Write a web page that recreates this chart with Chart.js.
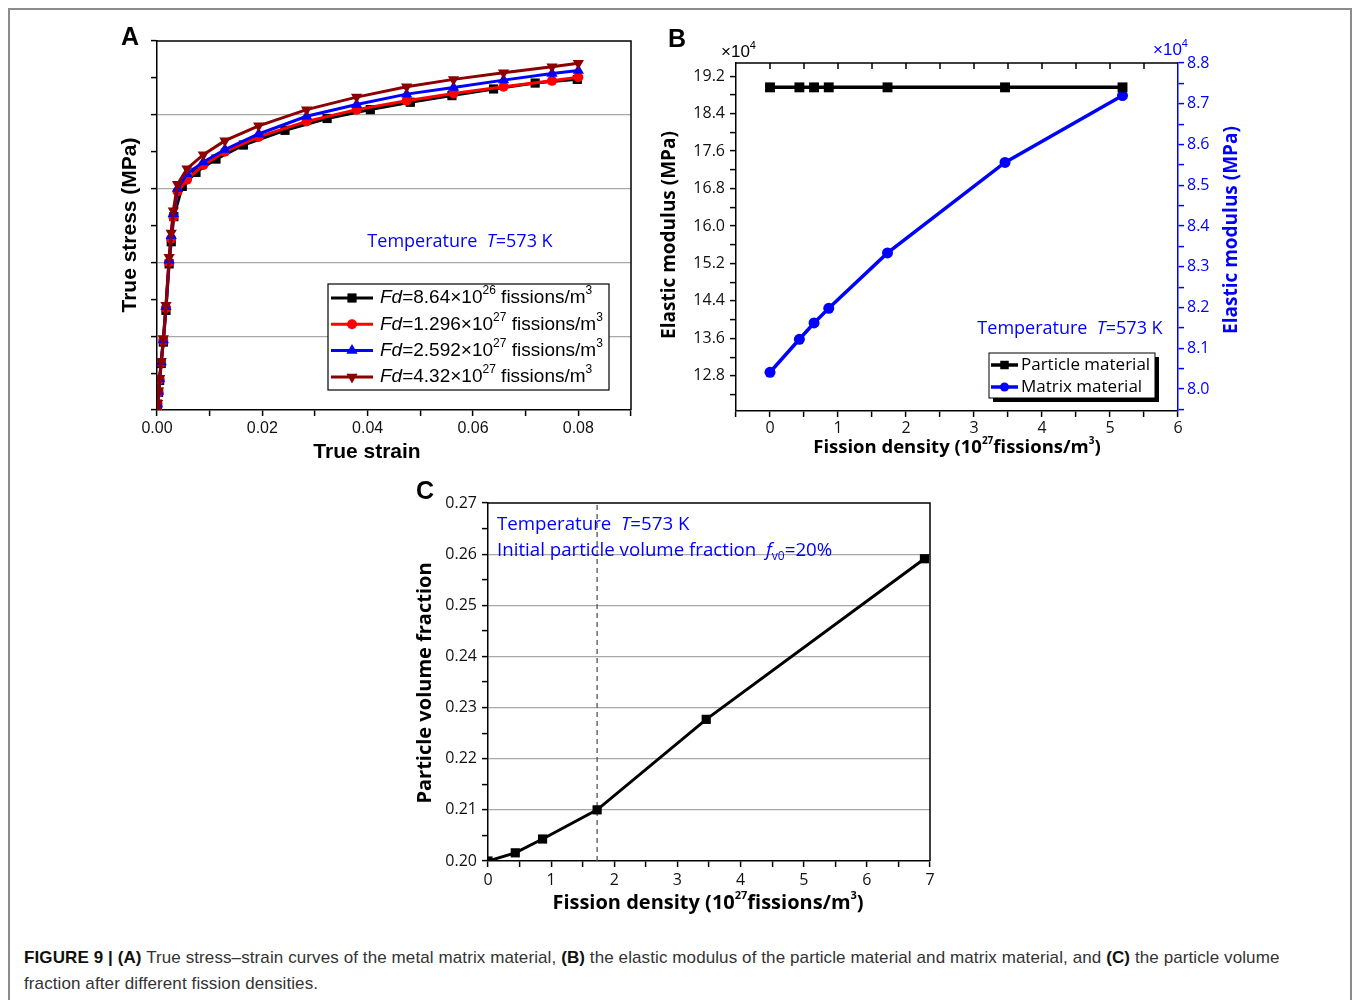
<!DOCTYPE html>
<html>
<head>
<meta charset="utf-8">
<title>Figure 9</title>
<script src="https://cdn.jsdelivr.net/npm/chart.js@4.4.1/dist/chart.umd.min.js"></script>
<style>
  body { margin: 0; background: #fff; width: 1356px; height: 1000px; position: relative; overflow: hidden; }
  .frame { position: absolute; left: 8px; top: 8px; width: 1340px; height: 1000px; border: 2px solid #8c8c8c; border-bottom: none; }
  canvas { position: absolute; }
  #chartA { left: 100px; top: 20px; }
  #chartB { left: 640px; top: 20px; }
  #chartC { left: 380px; top: 480px; }
  .caption { position: absolute; left: 24px; top: 945px; font-family: 'Liberation Sans Narrow', 'Liberation Sans', Arial, sans-serif; font-size: 17px; letter-spacing: 0.1px; line-height: 26px; color: #333; white-space: nowrap; }
  .caption b { color: #111; }
</style>
</head>
<body>
<div class="frame"></div>
<canvas id="chartA" width="560" height="460"></canvas>
<canvas id="chartB" width="660" height="460"></canvas>
<canvas id="chartC" width="600" height="440"></canvas>
<div class="caption"><b>FIGURE 9 | (A)</b> True stress–strain curves of the metal matrix material, <b>(B)</b> the elastic modulus of the particle material and matrix material, and <b>(C)</b> the particle volume<br>fraction after different fission densities.</div>

<script>
// ---- (A) true stress-strain curves, one per fission density ----
const strainFd1 = [0, 0.0001, 0.0003, 0.0005, 0.0008, 0.0012, 0.0017, 0.0023, 0.0027, 0.0032, 0.0048, 0.0074, 0.0112, 0.0164, 0.0243, 0.0323, 0.0405, 0.0481, 0.0560, 0.0639, 0.0718, 0.0798];
const stressFd1 = [0, 8, 24, 40, 63, 92, 135, 198, 228, 262, 303, 322, 340, 359, 379, 395, 407, 417, 426, 435, 443, 448];
const strainFd2 = [0, 0.0001, 0.0003, 0.0005, 0.0008, 0.0012, 0.0017, 0.0023, 0.0027, 0.0031, 0.0039, 0.0057, 0.0088, 0.0129, 0.0193, 0.0284, 0.0379, 0.0474, 0.0563, 0.0658, 0.0750, 0.0800];
const stressFd2 = [0, 8, 24, 41, 64, 94, 138, 200, 232, 262, 296, 312, 332, 350, 370, 391, 407, 419, 429, 438, 446, 451];
const stressFd3 = [0, 8, 25, 42, 65, 95, 140, 203, 236, 266, 300, 320, 336, 353, 374, 398, 414, 428, 437, 447, 456, 460];
const stressFd4 = [0, 9, 26, 43, 66, 97, 142, 207, 240, 270, 306, 327, 346, 365, 385, 407, 424, 438, 448, 457, 465, 470];
const fdMantissa = ['8.64', '1.296', '2.592', '4.32'];
const fdExponent = ['26', '27', '27', '27'];

const strainTicksA = [0, 0.01, 0.02, 0.03, 0.04, 0.05, 0.06, 0.07, 0.08, 0.09];
const strainLabelsA = ['0.00', '', '0.02', '', '0.04', '', '0.06', '', '0.08', ''];
const stressTicksA = [0, 50, 100, 150, 200, 250, 300, 350, 400, 450, 500];
const stressGridA = [100, 200, 300, 400];

// ---- (B) elastic modulus (x10^4 MPa) vs fission density ----
const fissionB = [0, 0.432, 0.648, 0.864, 1.728, 3.456, 5.184];
const particleModulus = [18.96, 18.96, 18.96, 18.96, 18.96, 18.96, 18.96];
const matrixModulus = [8.041, 8.122, 8.162, 8.198, 8.334, 8.556, 8.720];

const fissionTicksB = [-0.5, 0, 0.5, 1, 1.5, 2, 2.5, 3, 3.5, 4, 4.5, 5, 5.5, 6];
const fissionLabelsB = ['', '0', '', '1', '', '2', '', '3', '', '4', '', '5', '', '6'];
const leftTicksB = [12.4, 12.8, 13.2, 13.6, 14.0, 14.4, 14.8, 15.2, 15.6, 16.0, 16.4, 16.8, 17.2, 17.6, 18.0, 18.4, 18.8, 19.2];
const leftLabelsB = ['', '12.8', '', '13.6', '', '14.4', '', '15.2', '', '16.0', '', '16.8', '', '17.6', '', '18.4', '', '19.2'];
const rightTicksB = [7.95, 8.0, 8.05, 8.1, 8.15, 8.2, 8.25, 8.3, 8.35, 8.4, 8.45, 8.5, 8.55, 8.6, 8.65, 8.7, 8.75, 8.8];
const rightLabelsB = ['', '8.0', '', '8.1', '', '8.2', '', '8.3', '', '8.4', '', '8.5', '', '8.6', '', '8.7', '', '8.8'];

// ---- (C) particle volume fraction vs fission density ----
const fissionC = [0, 0.432, 0.864, 1.728, 3.456, 6.912];
const volumeFraction = [0.2000, 0.2016, 0.2043, 0.2100, 0.2277, 0.2591];
const markerLineC = 1.728;

const fissionTicksC = [0, 0.5, 1, 1.5, 2, 2.5, 3, 3.5, 4, 4.5, 5, 5.5, 6, 6.5, 7];
const fissionLabelsC = ['0', '', '1', '', '2', '', '3', '', '4', '', '5', '', '6', '', '7'];
const fractionTicksC = [0.200, 0.205, 0.21, 0.215, 0.22, 0.225, 0.23, 0.235, 0.24, 0.245, 0.25, 0.255, 0.26, 0.265, 0.27];
const fractionLabelsC = ['0.20', '', '0.21', '', '0.22', '', '0.23', '', '0.24', '', '0.25', '', '0.26', '', '0.27'];
const fractionGridC = [0.21, 0.22, 0.23, 0.24, 0.25, 0.26];

const ARIAL = "'Liberation Sans', Arial, sans-serif";
const SANS = "'Open Sans', 'Noto Sans', sans-serif";
const BLUE = '#0000ff';

function points(xs, ys) {
    return xs.map((x, i) => ({ x: x, y: ys[i] }));
}

// linear axis with explicit tick list (minor ticks get empty labels)
function axis(o) {
    const color = o.color || '#000';
    return {
        type: 'linear',
        position: o.position,
        min: o.min,
        max: o.max,
        afterBuildTicks: s => { s.ticks = o.ticks.map(v => ({ value: v })); },
        afterFit: s => {
            if (o.position === 'bottom') s.height = o.size;
            else s.width = o.size;
        },
        ticks: {
            autoSkip: false,
            maxRotation: 0,
            padding: o.pad,
            color: o.color || '#111',
            font: o.font,
            callback: (v, i) => (o.labels ? o.labels[i] : '')
        },
        grid: {
            drawOnChartArea: !!o.grid,
            color: c => (o.grid && c.tick && o.grid.includes(c.tick.value) ? '#a8a8a8' : 'rgba(0,0,0,0)'),
            lineWidth: 1.2,
            tickColor: color,
            tickLength: 6,
            tickWidth: 1.5
        },
        border: { display: true, color: color, width: 1.5 }
    };
}

// draw text made of plain / italic / superscript / subscript runs
function drawRich(ctx, parts, x, y, o) {
    const fontOf = p => {
        const f = p[1] || '';
        const small = f.includes('^') || f.includes('_');
        const size = small ? (o.small || Math.round(o.size * 0.62)) : o.size;
        return (f.includes('i') ? 'italic ' : '') + (o.weight || 'normal') + ' ' + size + 'px ' + o.family;
    };
    let total = 0;
    parts.forEach(p => { ctx.font = fontOf(p); total += ctx.measureText(p[0]).width; });
    let cx = o.align === 'center' ? x - total / 2 : x;
    ctx.fillStyle = o.color || '#000';
    ctx.textAlign = 'left';
    ctx.textBaseline = 'middle';
    parts.forEach(p => {
        const f = p[1] || '';
        ctx.font = fontOf(p);
        const dy = f.includes('^') ? -o.size * 0.36 : (f.includes('_') ? o.size * 0.32 : 0);
        ctx.fillText(p[0], cx, y + dy);
        cx += ctx.measureText(p[0]).width;
    });
}

function rotated(ctx, x, y, fn) {
    ctx.save();
    ctx.translate(x, y);
    ctx.rotate(-Math.PI / 2);
    fn();
    ctx.restore();
}

function frameTopRight(ctx, area) {
    ctx.save();
    ctx.strokeStyle = '#000';
    ctx.lineWidth = 1.5;
    ctx.beginPath();
    ctx.moveTo(area.left, area.top);
    ctx.lineTo(area.right, area.top);
    ctx.lineTo(area.right, area.bottom);
    ctx.stroke();
    ctx.restore();
}

const baseOptions = {
    responsive: false,
    animation: false,
    devicePixelRatio: 1,
    plugins: { legend: { display: false }, tooltip: { enabled: false } }
};

// ---------------- panel A ----------------
const seriesA = [
    { xs: strainFd1, ys: stressFd1, color: '#000000', style: 'rect', radius: 6.5, rotation: 0 },
    { xs: strainFd2, ys: stressFd2, color: '#ff0000', style: 'circle', radius: 5, rotation: 0 },
    { xs: strainFd2, ys: stressFd3, color: '#0000ff', style: 'triangle', radius: 6.5, rotation: 0 },
    { xs: strainFd2, ys: stressFd4, color: '#8b0000', style: 'triangle', radius: 6.5, rotation: 180 }
];

const decorA = {
    id: 'decorA',
    afterDraw(chart) {
        const ctx = chart.ctx;
        frameTopRight(ctx, chart.chartArea);
        ctx.save();
        drawRich(ctx, [['A']], 30, 18, { size: 25, family: ARIAL, weight: 'bold', align: 'center' });
        rotated(ctx, 30, 205, () => drawRich(ctx, [['True stress (MPa)']], 0, 0, { size: 21, family: ARIAL, weight: 'bold', align: 'center' }));
        drawRich(ctx, [['True strain']], 267, 432, { size: 21, family: ARIAL, weight: 'bold', align: 'center' });
        drawRich(ctx, [['Temperature  '], ['T', 'i'], ['=573 K']], 360, 222, { size: 18, family: SANS, color: BLUE, align: 'center' });

        // legend
        ctx.fillStyle = '#fff';
        ctx.fillRect(228, 264, 281, 106);
        ctx.strokeStyle = '#000';
        ctx.lineWidth = 1.2;
        ctx.strokeRect(228, 264, 281, 106);
        seriesA.forEach((s, i) => {
            const y = 278 + i * 26.3;
            ctx.strokeStyle = s.color;
            ctx.lineWidth = 3;
            ctx.beginPath();
            ctx.moveTo(231, y);
            ctx.lineTo(273, y);
            ctx.stroke();
            ctx.fillStyle = s.color;
            Chart.helpers.drawPoint(ctx, { pointStyle: s.style, rotation: s.rotation, radius: s.radius, borderWidth: 0 }, 252, y);
            drawRich(ctx, [['Fd', 'i'], ['=' + fdMantissa[i] + '×10'], [fdExponent[i], '^'], [' fissions/m'], ['3', '^']], 280, y,
                { size: 19, small: 12, family: ARIAL });
        });
        ctx.restore();
    }
};

new Chart(document.getElementById('chartA'), {
    type: 'line',
    data: {
        datasets: seriesA.map((s, i) => ({
            data: points(s.xs, s.ys),
            borderColor: s.color,
            backgroundColor: s.color,
            borderWidth: 3,
            pointStyle: s.style,
            pointRadius: s.radius,
            pointRotation: s.rotation,
            pointBorderWidth: 0,
            tension: 0,
            order: 4 - i
        }))
    },
    options: Object.assign({}, baseOptions, {
        layout: { padding: { left: 0, top: 21, right: 29, bottom: 0 } },
        scales: {
            x: axis({ position: 'bottom', min: 0, max: 0.09, ticks: strainTicksA, labels: strainLabelsA, size: 70, pad: 3,
                font: { family: ARIAL, size: 16 } }),
            y: axis({ position: 'left', min: 0, max: 500, ticks: stressTicksA, grid: stressGridA, size: 57, pad: 4,
                font: { family: ARIAL, size: 16 } })
        }
    }),
    plugins: [decorA]
});

// ---------------- panel B ----------------
const decorB = {
    id: 'decorB',
    afterDraw(chart) {
        const ctx = chart.ctx;
        const a = chart.chartArea;
        const xs = chart.scales.x;
        ctx.save();
        // top frame with inward ticks
        ctx.strokeStyle = '#000';
        ctx.lineWidth = 1.5;
        ctx.beginPath();
        ctx.moveTo(a.left, a.top);
        ctx.lineTo(a.right, a.top);
        fissionTicksB.forEach(v => {
            const px = xs.getPixelForValue(v);
            if (px > a.left + 1 && px < a.right - 1) {
                ctx.moveTo(px, a.top);
                ctx.lineTo(px, a.top + 6);
            }
        });
        ctx.stroke();

        drawRich(ctx, [['B']], 37, 20, { size: 25, family: ARIAL, weight: 'bold', align: 'center' });
        drawRich(ctx, [['×10'], ['4', '^']], 81, 32, { size: 17, small: 11, family: ARIAL });
        drawRich(ctx, [['×10'], ['4', '^']], 513, 30, { size: 17, small: 11, family: ARIAL, color: BLUE });
        rotated(ctx, 30, 215, () => drawRich(ctx, [['Elastic modulus (MPa)']], 0, 0, { size: 19, family: SANS, weight: 'bold', align: 'center' }));
        rotated(ctx, 592, 210, () => drawRich(ctx, [['Elastic modulus (MPa)']], 0, 0, { size: 19, family: SANS, weight: 'bold', align: 'center', color: BLUE }));
        drawRich(ctx, [['Fission density (10'], ['27', '^'], ['fissions/m'], ['3', '^'], [')']], 317, 428,
            { size: 18.5, small: 10, family: SANS, weight: 'bold', align: 'center' });
        drawRich(ctx, [['Temperature  '], ['T', 'i'], ['=573 K']], 430, 309, { size: 18, family: SANS, color: BLUE, align: 'center' });

        // legend with drop shadow
        ctx.fillStyle = '#000';
        ctx.fillRect(353, 337, 166, 45);
        ctx.fillStyle = '#fff';
        ctx.fillRect(349, 333, 166, 45);
        ctx.strokeStyle = '#000';
        ctx.lineWidth = 1;
        ctx.strokeRect(349, 333, 166, 45);
        const entries = [
            { label: 'Particle material', color: '#000', style: 'rect', radius: 6 },
            { label: 'Matrix material', color: BLUE, style: 'circle', radius: 4.5 }
        ];
        entries.forEach((e, i) => {
            const y = 345 + i * 22;
            ctx.strokeStyle = e.color;
            ctx.lineWidth = 3.5;
            ctx.beginPath();
            ctx.moveTo(351, y);
            ctx.lineTo(378, y);
            ctx.stroke();
            ctx.fillStyle = e.color;
            Chart.helpers.drawPoint(ctx, { pointStyle: e.style, rotation: 0, radius: e.radius, borderWidth: 0 }, 364.5, y);
            drawRich(ctx, [[e.label]], 381, y, { size: 17, family: SANS });
        });
        ctx.restore();
    }
};

new Chart(document.getElementById('chartB'), {
    type: 'line',
    data: {
        datasets: [
            {
                data: points(fissionB, particleModulus),
                yAxisID: 'y',
                borderColor: '#000',
                backgroundColor: '#000',
                borderWidth: 3.5,
                pointStyle: 'rect',
                pointRadius: 7,
                pointBorderWidth: 0,
                tension: 0
            },
            {
                data: points(fissionB, matrixModulus),
                yAxisID: 'y2',
                borderColor: BLUE,
                backgroundColor: BLUE,
                borderWidth: 3.5,
                pointStyle: 'circle',
                pointRadius: 5.5,
                pointBorderWidth: 0,
                tension: 0
            }
        ]
    },
    options: Object.assign({}, baseOptions, {
        layout: { padding: { left: 0, top: 43, right: 42, bottom: 0 } },
        scales: {
            x: axis({ position: 'bottom', min: -0.5, max: 6, ticks: fissionTicksB, labels: fissionLabelsB, size: 69, pad: 2,
                font: { family: SANS, size: 16 } }),
            y: axis({ position: 'left', min: 12.05, max: 19.48, ticks: leftTicksB, labels: leftLabelsB, size: 96, pad: 5,
                font: { family: SANS, size: 16 } }),
            y2: axis({ position: 'right', min: 7.946, max: 8.8, ticks: rightTicksB, labels: rightLabelsB, size: 80, pad: 3,
                color: BLUE, font: { family: SANS, size: 16 } })
        }
    }),
    plugins: [decorB]
});

// ---------------- panel C ----------------
const decorC = {
    id: 'decorC',
    beforeDatasetsDraw(chart) {
        const ctx = chart.ctx;
        const a = chart.chartArea;
        const px = chart.scales.x.getPixelForValue(markerLineC);
        ctx.save();
        ctx.strokeStyle = '#555';
        ctx.lineWidth = 1.3;
        ctx.setLineDash([5, 4]);
        ctx.beginPath();
        ctx.moveTo(px, a.bottom);
        ctx.lineTo(px, a.top);
        ctx.stroke();
        ctx.restore();
    },
    afterDraw(chart) {
        const ctx = chart.ctx;
        frameTopRight(ctx, chart.chartArea);
        ctx.save();
        drawRich(ctx, [['C']], 45, 12, { size: 25, family: ARIAL, weight: 'bold', align: 'center' });
        rotated(ctx, 45, 203, () => drawRich(ctx, [['Particle volume fraction']], 0, 0, { size: 20, family: SANS, weight: 'bold', align: 'center' }));
        drawRich(ctx, [['Fission density (10'], ['27', '^'], ['fissions/m'], ['3', '^'], [')']], 328, 423,
            { size: 20, small: 11, family: SANS, weight: 'bold', align: 'center' });
        drawRich(ctx, [['Temperature  '], ['T', 'i'], ['=573 K']], 117, 45, { size: 18.7, family: SANS, color: BLUE });
        drawRich(ctx, [['Initial particle volume fraction  '], ['f', 'i'], ['v0', '_'], ['=20%']], 117, 71, { size: 18.7, small: 12, family: SANS, color: BLUE });
        ctx.restore();
    }
};

new Chart(document.getElementById('chartC'), {
    type: 'line',
    data: {
        datasets: [{
            data: points(fissionC, volumeFraction),
            borderColor: '#000',
            backgroundColor: '#000',
            borderWidth: 3,
            pointStyle: 'rect',
            pointRadius: 6.5,
            pointBorderWidth: 0,
            tension: 0
        }]
    },
    options: Object.assign({}, baseOptions, {
        layout: { padding: { left: 0, top: 23, right: 50, bottom: 0 } },
        scales: {
            x: axis({ position: 'bottom', min: 0, max: 7, ticks: fissionTicksC, labels: fissionLabelsC, size: 59, pad: 4,
                font: { family: SANS, size: 16 } }),
            y: axis({ position: 'left', min: 0.2, max: 0.27, ticks: fractionTicksC, labels: fractionLabelsC, grid: fractionGridC, size: 108, pad: 5,
                font: { family: SANS, size: 16 } })
        }
    }),
    plugins: [decorC]
});
</script>
</body>
</html>
